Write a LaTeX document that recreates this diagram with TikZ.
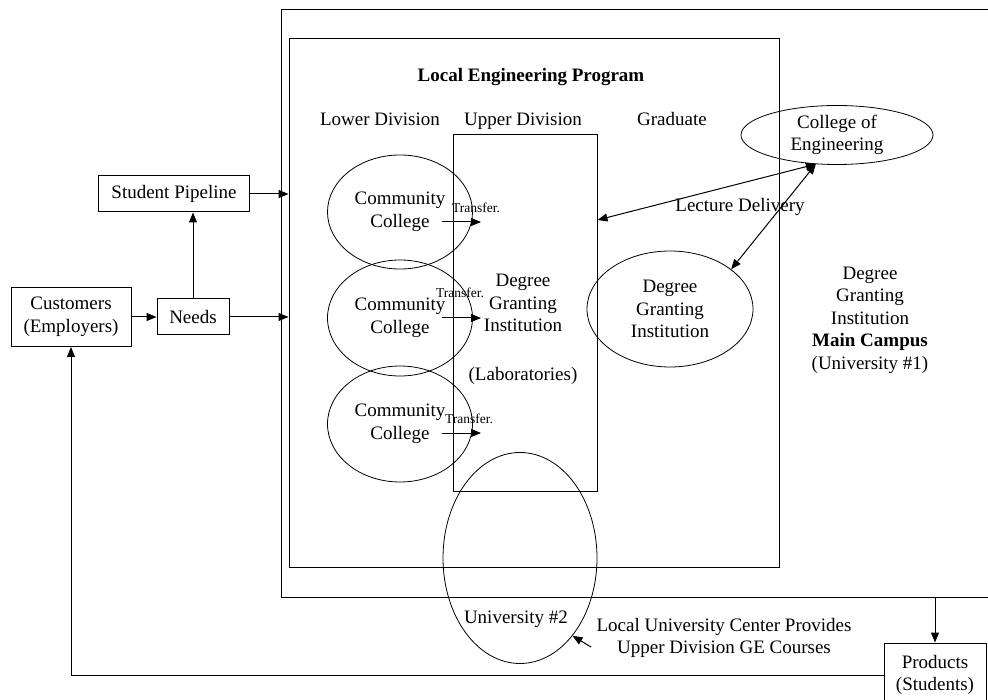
\documentclass[tikz,border=0pt]{standalone}
\usepackage{fontspec}
\setmainfont{Liberation Serif}
\usepackage{tikz}
\usetikzlibrary{arrows.meta,positioning,shapes.geometric}

\begin{document}
\begin{tikzpicture}[
    x=1pt, y=-1pt,
    every node/.style={font=\fontsize{19}{22.5}\selectfont, inner sep=0pt},
    box/.style={rectangle, draw, line width=1pt, align=center},
    frame/.style={rectangle, draw, line width=1pt},
    oval/.style={ellipse, draw, line width=0.8pt, align=center},
    head/.style={anchor=base},
    small/.style={font=\fontsize{13.5}{15}\selectfont, anchor=base west},
    arrow/.style={-{Triangle[length=10pt,width=8pt]}, line width=1pt},
    both/.style={{Triangle[length=10pt,width=8pt]}-{Triangle[length=10pt,width=8pt]}, line width=1pt}
]
    \useasboundingbox (0,0) rectangle (988,700);

    % Main campus frame (runs off the right edge)
    \coordinate (mcb) at (281,597);
    \draw[line width=1pt] (995,10) -- (281,10) -- (mcb) -- (995,597);

    % Local program frame
    \node[frame, minimum width=490, minimum height=528] (lep) at (534,303) {};
    \node[head, font=\bfseries\fontsize{19}{22.5}\selectfont] (title) at (531,82) {Local Engineering Program};

    % Column heads
    \node[head] (lower) at (380,126) {Lower Division};
    \node[head] (upper) at (523,126) {Upper Division};
    \node[head] (grad) at (672,126) {Graduate};

    % Upper division column
    \node[frame, minimum width=144, minimum height=356] (ud) at (525,313) {};
    \node[align=center] (dgi) at (523,303) {Degree\\Granting\\Institution};
    \node (labs) at (523,376) {(Laboratories)};

    % Community colleges
    \node[oval, minimum width=145, minimum height=114] (cc1) at (400,212) {Community\\College};
    \node[oval, minimum width=145, minimum height=116] (cc2) at (400,318) {Community\\College};
    \node[oval, minimum width=145, minimum height=116] (cc3) at (400,424) {Community\\College};

    % Transfers
    \coordinate (t1) at (442,222);
    \coordinate (t2) at (442,318);
    \coordinate (t3) at (442,433);
    \draw[arrow] (t1) -- ++(39,0) coordinate (t1e);
    \draw[arrow] (t2) -- ++(39,0) coordinate (t2e);
    \draw[arrow] (t3) -- ++(39,0) coordinate (t3e);
    \node[small] (tr1) at (452,213) {Transfer.};
    \node[small] (tr2) at (436,298) {Transfer.};
    \node[small] (tr3) at (445,424) {Transfer.};

    % Graduate side
    \node[oval, minimum width=192, minimum height=59] (coe) at (837,135) {College of\\Engineering};
    \node[oval, minimum width=166, minimum height=116] (gdi) at (670,309) {Degree\\Granting\\Institution};
    \node (lect) at (740,207) {Lecture Delivery};
    \draw[both] ([yshift=93pt]ud.east) -- (coe.234);
    \draw[both] (coe.234) -- (gdi.33);

    % Main campus text
    \node[align=center] (mc) at (870,320) {Degree\\Granting\\Institution\\\textbf{Main Campus}\\(University \#1)};

    % University #2
    \node[oval, minimum width=154, minimum height=211] (uni) at (520,558) {};
    \node (unilbl) at (516,619) {University \#2};
    \node[align=center] (ge) at (724,638) {Local University Center Provides\\Upper Division GE Courses};
    \coordinate (geptr) at (591,647);
    \draw[arrow] (geptr) -- (uni.-56);

    % Customers side
    \node[box, minimum width=120, minimum height=59] (cust) at (71,317) {Customers\\(Employers)};
    \node[box, minimum width=72, minimum height=36] (needs) at (193,317) {Needs};
    \node[box, minimum width=151, minimum height=36] (pipe) at (174,194) {Student Pipeline};

    % Products
    \node[box, minimum width=102, minimum height=64] (prod) at (935,675) {Products\\(Students)};

    % Arrows
    \draw[arrow] (cust.east) -- (needs.west);
    \draw[arrow] (needs.north) -- (needs.north |- pipe.south);
    \draw[arrow] (pipe.east) -- (pipe.east -| lep.west);
    \draw[arrow] (needs.east) -- (needs.east -| lep.west);
    \draw[arrow] (prod.north |- mcb) -- (prod.north);
    \draw[arrow] (prod.west) -| (cust.south);
\end{tikzpicture}
\end{document}
